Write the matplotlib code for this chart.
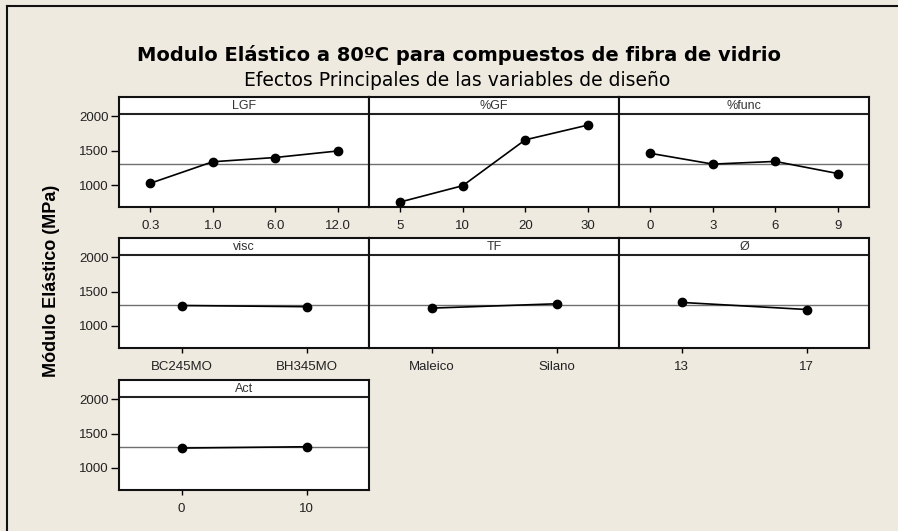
import matplotlib
matplotlib.use('Agg')
import matplotlib.pyplot as plt
from matplotlib.lines import Line2D

plt.rcParams['font.family'] = ['Liberation Sans', 'DejaVu Sans']

# datos: medias por nivel de cada factor
lgf_levels = ['0.3', '1.0', '6.0', '12.0']
lgf_means = [1025, 1338, 1400, 1495]
gf_levels = ['5', '10', '20', '30']
gf_means = [753, 990, 1657, 1871]
func_levels = ['0', '3', '6', '9']
func_means = [1461, 1304, 1343, 1167]
visc_levels = ['BC245MO', 'BH345MO']
visc_means = [1298, 1281]
tf_levels = ['Maleico', 'Silano']
tf_means = [1260, 1323]
diam_levels = ['13', '17']
diam_means = [1343, 1240]
act_levels = ['0', '10']
act_means = [1290, 1309]
grand_mean = 1302

panels = [
    ('LGF', lgf_levels, lgf_means, 0, 0),
    ('%GF', gf_levels, gf_means, 0, 1),
    ('%func', func_levels, func_means, 0, 2),
    ('visc', visc_levels, visc_means, 1, 0),
    ('TF', tf_levels, tf_means, 1, 1),
    ('Ø', diam_levels, diam_means, 1, 2),
    ('Act', act_levels, act_means, 2, 0),
]

bg = '#EEEAE0'
W, H = 898, 531
fig = plt.figure(figsize=(W / 100, H / 100), dpi=100, facecolor=bg)

col_left = [119, 369, 619]
row_top = [97, 238, 380]
pw, ph = 250, 110

for name, levels, means, r, c in panels:
    ax = fig.add_axes([col_left[c] / W, 1 - (row_top[r] + ph) / H, pw / W, ph / H])
    ax.set_facecolor('white')
    x = list(range(len(levels)))
    ax.axhline(grand_mean, color='#6f6f6f', lw=1.0, zorder=1)
    ax.plot(x, means, color='black', lw=1.2, marker='o', ms=6, zorder=3)
    # franja del titulo del panel
    ax.axhline(2030, color='#222222', lw=1.5, zorder=2)
    ax.text(0.5, 0.915, name, transform=ax.transAxes, ha='center', va='center',
            fontsize=9, color='#333333')
    ax.set_xlim(-0.5, len(levels) - 0.5)
    ax.set_ylim(680, 2280)
    ax.set_xticks(x)
    ax.set_xticklabels(levels)
    ax.tick_params(axis='x', length=3.5, width=1, pad=6, labelsize=9.5, labelcolor='#222222')
    if c == 0:
        ax.set_yticks([1000, 1500, 2000])
        ax.tick_params(axis='y', length=6, width=1, pad=1.5, labelsize=9.5, labelcolor='#222222')
    else:
        ax.set_yticks([])
    for s in ax.spines.values():
        s.set_linewidth(1.5)
        s.set_color('#111111')

# marco de la figura
fig.add_artist(Line2D([7 / W, 7 / W], [0, 1 - 6 / H], color='#111111', lw=1.5))
fig.add_artist(Line2D([7 / W, 1], [1 - 6 / H, 1 - 6 / H], color='#111111', lw=1.5))

fig.text(459 / W, 1 - 55 / H, 'Modulo Elástico a 80ºC para compuestos de fibra de vidrio',
         ha='center', va='center', fontsize=14, fontweight='bold', family='DejaVu Sans')
fig.text(457 / W, 1 - 80 / H, 'Efectos Principales de las variables de diseño',
         ha='center', va='center', fontsize=13.5, family='DejaVu Sans')
fig.text(52 / W, 1 - 281 / H, 'Módulo Elástico (MPa)', rotation=90,
         ha='center', va='center', fontsize=13, fontweight='bold')

fig.savefig('out.png', dpi=100, facecolor=bg)
